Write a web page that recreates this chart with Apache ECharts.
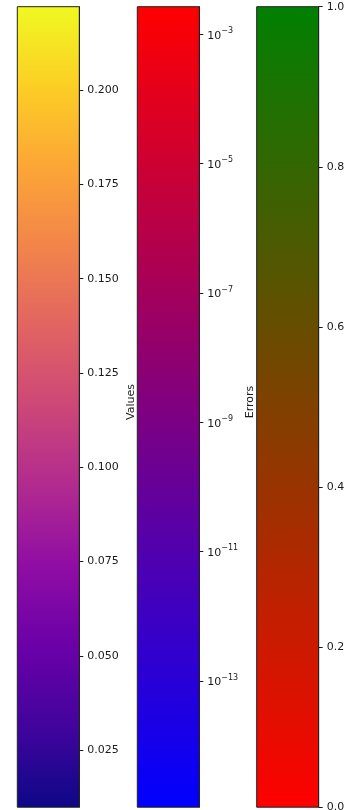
<!DOCTYPE html>
<html>
<head>
<meta charset="utf-8">
<script src="https://cdn.jsdelivr.net/npm/echarts@6/dist/echarts.min.js"></script>
<style>
  html, body { margin: 0; padding: 0; background: #fff; }
  #chart { width: 347px; height: 810px; }
</style>
</head>
<body>
<div id="chart"></div>
<script>
// ---- data ----
const valuesRange = [0.0099, 0.2221];
const valuesTicks = [0.025, 0.05, 0.075, 0.1, 0.125, 0.15, 0.175, 0.2];
const magnitudeExpRange = [-14.95, -2.573];   // log10 of the range
const magnitudeExpTicks = [-13, -11, -9, -7, -5, -3];
const errorsRange = [0, 1];
const errorsTicks = [0, 0.2, 0.4, 0.6, 0.8, 1.0];
const axisTitles = ['Values', 'Errors'];

// ---- colour maps ----
const plasmaColors = ['#0d0887', '#41049d', '#6a00a8', '#8f0da4', '#b12a90', '#cc4778',
                      '#e16462', '#f2844b', '#fca636', '#fcce25', '#f0f921'];
const blueRedColors = ['#0000ff', '#ff0000'];
const redGreenColors = ['#ff0000', '#008000'];

function stops(colors) {
  return colors.map((c, i) => ({ offset: i / (colors.length - 1), color: c }));
}

const chart = echarts.init(document.getElementById('chart'), null, { renderer: 'canvas' });

const font = 'DejaVu Sans';
const textColor = '#1a1a1a';
const bars = [
  { left: 17.3, range: valuesRange, ticks: valuesTicks, colors: plasmaColors,
    fmt: v => v.toFixed(3) },
  { left: 137.3, range: magnitudeExpRange, ticks: magnitudeExpTicks, colors: blueRedColors,
    fmt: v => '{b|10}{s|\u2212' + Math.abs(Math.round(v)) + '}' },
  { left: 256.7, range: errorsRange, ticks: errorsTicks, colors: redGreenColors,
    fmt: v => v.toFixed(1) }
];

const grid = [], xAxis = [], yAxis = [], series = [];
bars.forEach((b, i) => {
  grid.push({ left: b.left, width: 62, top: 6.7, height: 800.5,
              outerBoundsMode: 'none', containLabel: false });
  xAxis.push({ gridIndex: i, type: 'value', min: 0, max: 1, show: false });
  yAxis.push({
    gridIndex: i, type: 'value', position: 'right', z: 10,
    min: b.range[0], max: b.range[1],
    splitLine: { show: false },
    axisLine: { show: true, onZero: false, lineStyle: { color: '#222', width: 1 } },
    axisTick: { show: true, inside: false, length: 4,
                lineStyle: { color: textColor, width: 1 },
                customValues: b.ticks },
    axisLabel: {
      show: true, margin: 8, color: textColor, fontFamily: font, fontSize: 11,
      customValues: b.ticks,
      formatter: b.fmt,
      rich: {
        b: { fontFamily: font, fontSize: 11, color: textColor, padding: [3, 0, 0, 0] },
        s: { fontFamily: font, fontSize: 8, color: textColor, padding: [0, 0, 7, 0] }
      }
    }
  });
  series.push({
    type: 'custom', xAxisIndex: i, yAxisIndex: i, z: 1,
    data: [[0, b.range[0], b.range[1]]],
    renderItem: (params, api) => {
      const p0 = api.coord([0, api.value(1)]);
      const p1 = api.coord([1, api.value(2)]);
      return {
        type: 'rect',
        shape: { x: p0[0], y: p1[1], width: p1[0] - p0[0], height: p0[1] - p1[1] },
        style: {
          fill: new echarts.graphic.LinearGradient(0, 1, 0, 0, stops(b.colors)),
          stroke: '#222', lineWidth: 1
        }
      };
    },
    silent: true
  });
});

chart.setOption({
  animation: false,
  grid, xAxis, yAxis, series,
  graphic: [
    { type: 'text', x: 131, y: 402, rotation: Math.PI / 2,
      style: { text: axisTitles[0], fontFamily: font, fontSize: 11, fill: textColor,
               align: 'center', verticalAlign: 'middle' } },
    { type: 'text', x: 250.5, y: 402, rotation: Math.PI / 2,
      style: { text: axisTitles[1], fontFamily: font, fontSize: 11, fill: textColor,
               align: 'center', verticalAlign: 'middle' } }
  ]
});
</script>
</body>
</html>
